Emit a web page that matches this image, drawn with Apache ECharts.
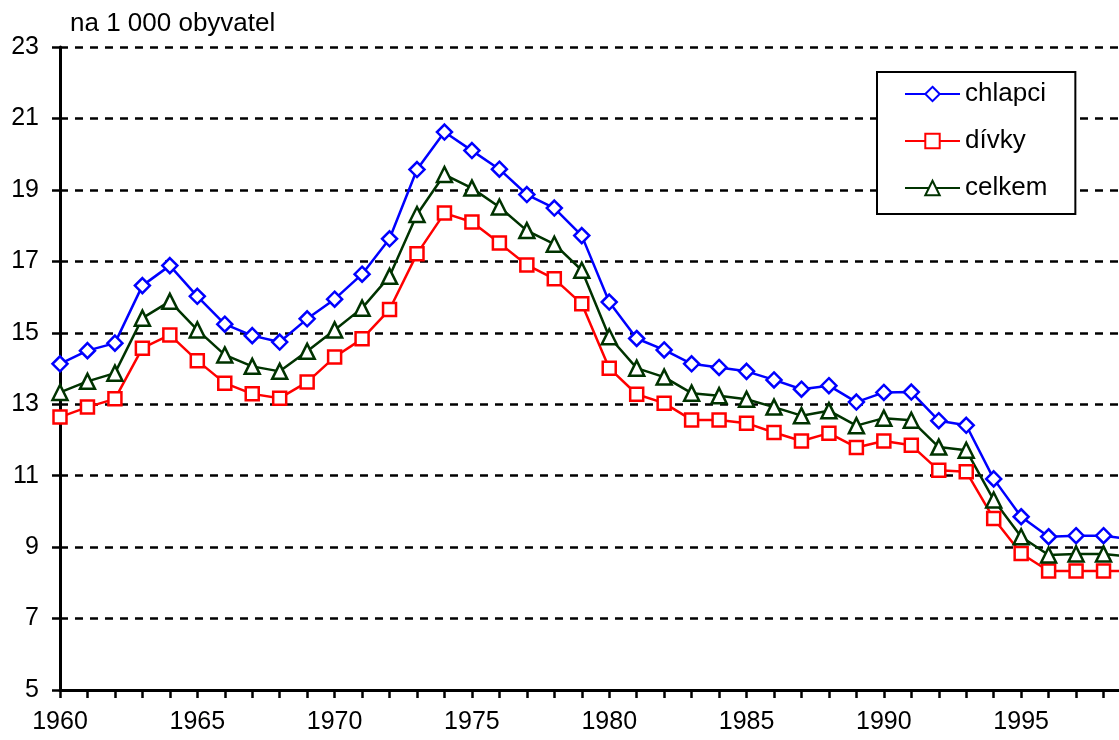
<!DOCTYPE html>
<html>
<head>
<meta charset="utf-8">
<script src="https://cdn.jsdelivr.net/npm/echarts@6/dist/echarts.min.js"></script>
<style>
    html, body { margin: 0; padding: 0; background: #fff; overflow: hidden; }
    /* graf je sirsi nez okno - rok 1999 lezi za pravym okrajem */
    #chart { width: 1131px; height: 740px; }
</style>
</head>
<body>
<div id="chart"></div>
<script>
// roky 1960 - 1999
var years = [];
for (var y = 1960; y <= 1999; y++) { years.push(String(y)); }

var chlapci = [14.13, 14.50, 14.71, 16.32, 16.88, 16.02, 15.24, 14.92, 14.74, 15.39,
               15.94, 16.64, 17.63, 19.57, 20.62, 20.10, 19.58, 18.87, 18.49, 17.72,
               15.86, 14.84, 14.52, 14.13, 14.03, 13.92, 13.68, 13.42, 13.52, 13.06,
               13.33, 13.34, 12.54, 12.41, 10.91, 9.85, 9.29, 9.32, 9.32, 9.22];
var divky = [12.64, 12.92, 13.15, 14.57, 14.94, 14.22, 13.59, 13.29, 13.17, 13.62,
             14.32, 14.83, 15.65, 17.21, 18.35, 18.10, 17.51, 16.90, 16.51, 15.81,
             14.01, 13.28, 13.03, 12.56, 12.56, 12.47, 12.21, 11.97, 12.19, 11.79,
             11.97, 11.85, 11.15, 11.11, 9.80, 8.82, 8.33, 8.33, 8.33, 8.33];
var celkem = [13.33, 13.64, 13.87, 15.41, 15.88, 15.08, 14.38, 14.06, 13.92, 14.48,
              15.08, 15.69, 16.58, 18.31, 19.43, 19.05, 18.52, 17.86, 17.48, 16.75,
              14.89, 14.01, 13.76, 13.31, 13.24, 13.14, 12.92, 12.68, 12.82, 12.40,
              12.61, 12.55, 11.80, 11.71, 10.32, 9.29, 8.78, 8.81, 8.81, 8.73];

var font = 'Liberation Sans, Arial, sans-serif';

var chart = echarts.init(document.getElementById('chart'));

// jedna rada grafu
function makeSeries(name, data, color, symbol, size) {
    return {
        name: name,
        type: 'line',
        data: data,
        symbol: symbol,
        symbolSize: size,
        showAllSymbol: true,
        lineStyle: { color: color, width: 2.5 },
        itemStyle: { color: '#fff', borderColor: color, borderWidth: 2.5 },
        emphasis: { disabled: true }
    };
}

var option = {
    animation: false,
    backgroundColor: '#fff',
    title: {
        text: 'na 1 000 obyvatel',
        left: 70,
        top: 11,
        padding: 0,
        textStyle: { color: '#000', fontSize: 26, fontWeight: 'normal', fontFamily: font }
    },
    legend: {
        orient: 'vertical',
        left: 877,
        top: 72,
        padding: [9, 28, 13, 27],
        itemGap: 21,
        itemWidth: 55,
        itemHeight: 18,
        backgroundColor: '#fff',
        borderColor: '#000',
        borderWidth: 2,
        textStyle: { color: '#000', fontSize: 26, fontFamily: font },
        data: ['chlapci', 'dívky', 'celkem']
    },
    grid: {
        left: 60,
        right: 0,
        top: 47,
        bottom: 50,
        containLabel: false
    },
    xAxis: {
        type: 'category',
        boundaryGap: false,
        data: years,
        axisLine: { lineStyle: { color: '#000', width: 3 } },
        axisTick: { show: true, interval: 0, length: 8, lineStyle: { color: '#000', width: 2.5 } },
        axisLabel: {
            interval: 4,
            margin: 20,
            color: '#000',
            fontSize: 25,
            fontFamily: font
        },
        splitLine: { show: false }
    },
    yAxis: {
        type: 'value',
        min: 5,
        max: 23,
        interval: 2,
        axisLine: { show: true, lineStyle: { color: '#000', width: 3 } },
        axisTick: { show: true, length: 8, lineStyle: { color: '#000', width: 2.5 } },
        axisLabel: { margin: 21, color: '#000', fontSize: 25, fontFamily: font },
        splitLine: {
            show: true,
            lineStyle: { color: '#000', width: 2.5, type: [8, 7] }
        }
    },
    series: [
        makeSeries('chlapci', chlapci, '#0000ff', 'diamond', 15),
        makeSeries('dívky', divky, '#ff0000', 'rect', 13),
        makeSeries('celkem', celkem, '#003300', 'triangle', 15)
    ]
};

chart.setOption(option);
</script>
</body>
</html>
